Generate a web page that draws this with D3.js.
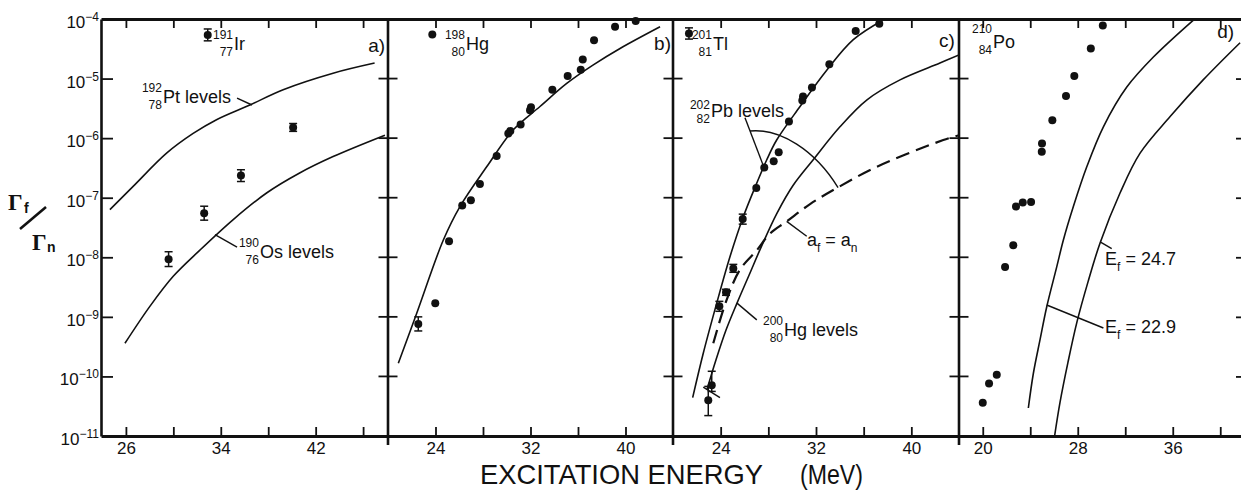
<!DOCTYPE html>
<html>
<head>
<meta charset="utf-8">
<script src="https://cdn.jsdelivr.net/npm/d3@7"></script>
<style>
  body { margin: 0; background: #fff; }
  svg { display: block; }
  text { font-family: "Liberation Sans", Arial, sans-serif; fill: #111; }
</style>
</head>
<body>
<svg id="chart" width="1241" height="490"></svg>
<script>
// ---- values (Γf/Γn against excitation energy in MeV) ----
const decades = [1e-4, 1e-5, 1e-6, 1e-7, 1e-8, 1e-9, 1e-10, 1e-11];
const ticksA = [26, 30, 34, 38, 42, 46], labelsA = [26, 34, 42];
const ticksBC = [24, 28, 32, 36, 40], labelsBC = [24, 32, 40];
const ticksD = [20, 24, 28, 32, 36, 40], labelsD = [20, 28, 36];

// a) 191Ir   [E, value, low, high]
const ir191 = [
  [29.6, 9.3e-9, 7.0e-9, 1.24e-8],
  [32.6, 5.5e-8, 4.2e-8, 7.2e-8],
  [35.7, 2.35e-7, 1.87e-7, 2.95e-7],
  [40.1, 1.51e-6, 1.3e-6, 1.76e-6]
];
const pt192Levels = [[24.65, 6.3e-8], [26.61, 1.55e-7], [29.43, 5.6e-7], [31.67, 1.2e-6], [33.64, 2.04e-6],
  [36.45, 3.6e-6], [39.26, 6.5e-6], [43.47, 1.23e-5], [46.97, 1.82e-5]];
const os190Levels = [[25.92, 3.6e-10], [28.02, 1.5e-9], [29.99, 4.8e-9], [32.24, 1.32e-8], [35.05, 4.3e-8],
  [37.86, 1.2e-7], [40.65, 2.6e-7], [43.47, 4.9e-7], [47.84, 1.12e-6]];

// b) 198Hg
const hg198 = [[39.12, 7.4e-5], [40.86, 9.3e-5], [37.35, 4.4e-5], [36.4, 2.1e-5], [36.23, 1.4e-5], [35.13, 1.1e-5],
  [33.84, 6.5e-6], [32.04, 3.3e-6], [31.96, 2.95e-6], [31.17, 1.7e-6], [30.3, 1.32e-6], [30.13, 1.2e-6],
  [29.15, 5.0e-7], [27.74, 1.7e-7], [26.98, 9.1e-8], [26.25, 7.4e-8], [25.14, 1.86e-8], [23.98, 1.7e-9],
  [22.55, 7.6e-10]];
const hg198Bars = [[22.55, 7.6e-10, 5.8e-10, 1.0e-9]];
const hg198Calc = [[20.87, 1.66e-10], [22.42, 1.15e-9], [24.66, 1.95e-8], [26.06, 7.1e-8], [28.31, 3.3e-7],
  [30.55, 1.38e-6], [32.8, 3.4e-6], [35.05, 8.3e-6], [37.29, 1.7e-5], [39.54, 3.2e-5], [42.91, 7.4e-5]];

// c) 201Tl
const tl201 = [[37.31, 8.3e-5], [35.33, 6.3e-5], [33.12, 1.74e-5], [31.66, 7.1e-6], [30.91, 5.0e-6], [30.85, 4.3e-6],
  [29.73, 1.9e-6], [28.87, 5.8e-7], [28.45, 4.1e-7], [27.66, 3.2e-7], [26.99, 1.45e-7], [25.85, 4.4e-8],
  [25.06, 6.5e-9], [24.45, 2.6e-9], [23.89, 1.5e-9], [23.25, 7.1e-11], [22.96, 4.0e-11]];
const tl201Bars = [[25.85, 4.4e-8, 3.6e-8, 5.3e-8], [25.06, 6.5e-9, 5.6e-9, 7.6e-9], [24.45, 2.6e-9, 2.3e-9, 2.9e-9],
  [23.89, 1.5e-9, 1.24e-9, 1.82e-9], [23.25, 7.1e-11, 5.6e-11, 1.22e-10], [22.96, 4.0e-11, 2.2e-11, 6.8e-11]];
const pb202Levels = [[21.65, 4.4e-11], [22.54, 2.45e-10], [23.67, 1.7e-9], [24.78, 1.02e-8], [25.9, 4.8e-8],
  [27.02, 1.74e-7], [27.86, 4.3e-7], [28.7, 9.3e-7], [30.66, 3.4e-6], [32.9, 1.38e-5], [35.13, 4.5e-5], [37.79, 1.0e-4]];
const hg200Levels = [[22.85, 6.0e-11], [23.61, 1.9e-10], [24.45, 6.0e-10], [25.37, 1.7e-9], [26.38, 5.0e-9],
  [27.47, 1.6e-8], [28.73, 5.5e-8], [30.07, 1.6e-7], [31.75, 4.3e-7], [34.01, 1.55e-6], [36.28, 4.4e-6],
  [39.05, 9.5e-6], [42.4, 1.82e-5], [44.0, 2.5e-5]];
const afEqualsAn = [[23.38, 3.6e-10], [24.51, 1.95e-9], [25.62, 6.2e-9], [27.02, 1.3e-8], [28.14, 2.5e-8],
  [29.54, 4.0e-8], [31.5, 7.8e-8], [33.74, 1.45e-7], [37.09, 3.3e-7], [42.68, 9.3e-7], [44.0, 1.12e-6]];

// d) 210Po
const po210 = [[30.11, 7.8e-5], [29.1, 3.2e-5], [27.71, 1.1e-5], [27.01, 5.1e-6], [25.86, 2.0e-6], [24.99, 8.1e-7],
  [24.97, 5.9e-7], [24.07, 8.5e-8], [23.37, 8.3e-8], [22.8, 7.1e-8], [22.57, 1.6e-8], [21.88, 6.9e-9],
  [21.18, 1.07e-10], [20.53, 7.6e-11], [20.0, 3.6e-11]];
const ef229 = [[23.84, 2.95e-11], [24.26, 1.12e-10], [24.82, 4.1e-10], [25.39, 1.48e-9], [26.23, 6.9e-9],
  [26.79, 1.95e-8], [27.63, 7.1e-8], [28.76, 3.3e-7], [30.16, 1.55e-6], [32.13, 7.2e-6], [34.37, 2.3e-5], [37.74, 9.6e-5]];
const ef247 = [[26.05, 1.0e-11], [26.51, 3.7e-11], [27.18, 1.74e-10], [27.94, 8.3e-10], [28.87, 3.9e-9],
  [29.88, 1.74e-8], [31.56, 1.2e-7], [33.25, 5.6e-7], [35.78, 2.3e-6], [38.56, 9.5e-6], [41.67, 4.0e-5]];

// ---- layout ----
const svg = d3.select("#chart");
const yTop = 19, yBot = 436;
const ink = "#111";
const y = d3.scaleLog().domain([1e-11, 1e-4]).range([yBot, yTop]);

const panels = [
  { x0: 101, x1: 388, dom: [23.9, 48.1], ticks: ticksA, labels: labelsA },
  { x0: 388, x1: 673, dom: [20, 44], ticks: ticksBC, labels: labelsBC },
  { x0: 673, x1: 959, dom: [20, 44], ticks: ticksBC, labels: labelsBC },
  { x0: 959, x1: 1244, dom: [18, 42], ticks: ticksD, labels: labelsD }
];
const defs = svg.append("defs");
panels.forEach((p, i) => {
  p.x = d3.scaleLinear().domain(p.dom).range([p.x0, p.x1]);
  defs.append("clipPath").attr("id", "clip" + i).append("rect")
    .attr("x", p.x0).attr("y", yTop).attr("width", p.x1 - p.x0).attr("height", yBot - yTop);
  p.g = svg.append("g");
});

// horizontal axes
panels.forEach(p => {
  p.g.append("g").attr("class", "axis").attr("transform", "translate(0," + yBot + ")")
    .call(d3.axisBottom(p.x).tickValues(p.ticks).tickSizeInner(-9).tickSizeOuter(0).tickPadding(6)
      .tickFormat(d => p.labels.indexOf(d) >= 0 ? d : ""));
  p.g.append("g").attr("class", "axis").attr("transform", "translate(0," + yTop + ")")
    .call(d3.axisTop(p.x).tickValues(p.ticks).tickSizeInner(-9).tickSizeOuter(0).tickFormat(""));
});
svg.selectAll(".axis path.domain").attr("stroke-width", 3).attr("stroke", ink);
svg.selectAll(".axis line").attr("stroke-width", 1.8).attr("stroke", ink);
svg.selectAll(".axis text").attr("font-size", 17).attr("fill", ink);

// vertical axes
const inner = decades.slice(1, -1);
svg.append("g").attr("transform", "translate(" + panels[0].x0 + ",0)")
  .call(d3.axisLeft(y).tickValues(inner).tickSizeInner(-12).tickSizeOuter(0).tickFormat(""))
  .call(g => g.selectAll("path,line").attr("stroke", ink))
  .call(g => g.select("path.domain").attr("stroke-width", 2.6))
  .call(g => g.selectAll("line").attr("stroke-width", 1.8));

panels.slice(1).forEach(p => {
  const g = svg.append("g").attr("stroke", ink);
  g.append("line").attr("x1", p.x0).attr("x2", p.x0).attr("y1", yTop - 1).attr("y2", yBot + 9)
    .attr("stroke-width", 2.6);
  g.selectAll(".tk").data(inner).join("line").attr("class", "tk")
    .attr("x1", p.x0 - 9.5).attr("x2", p.x0 + 9.5)
    .attr("y1", d => y(d)).attr("y2", d => y(d)).attr("stroke-width", 1.8);
});

svg.append("g").attr("transform", "translate(" + panels[3].x1 + ",0)")
  .call(d3.axisLeft(y).tickValues(inner).tickSizeInner(8).tickSizeOuter(0).tickFormat(""))
  .call(g => g.selectAll("path,line").attr("stroke", ink))
  .call(g => g.select("path.domain").attr("stroke-width", 2.6))
  .call(g => g.selectAll("line").attr("stroke-width", 1.8));

// decade labels 10^-n
svg.append("g").selectAll("text").data(decades).join("text")
  .attr("x", 99).attr("y", d => y(d) + 9).attr("text-anchor", "end").attr("font-size", 17)
  .each(function (d) {
    const t = d3.select(this);
    t.append("tspan").text("10");
    t.append("tspan").attr("dy", -7).attr("font-size", 12).text("\u2212" + Math.round(-Math.log10(d)));
  });

// ---- marks ----
function curve(i, data, dash) {
  const p = panels[i];
  p.g.append("path").datum(data)
    .attr("clip-path", "url(#clip" + i + ")")
    .attr("fill", "none").attr("stroke", ink)
    .attr("stroke-width", dash ? 2.2 : 1.6)
    .attr("stroke-dasharray", dash ? "14,7" : null)
    .attr("d", d3.line().x(d => p.x(d[0])).y(d => y(d[1])).curve(d3.curveCatmullRom.alpha(0.5)));
}
function dots(i, data) {
  const p = panels[i];
  p.g.append("g").selectAll("circle").data(data).join("circle")
    .attr("cx", d => p.x(d[0])).attr("cy", d => y(d[1])).attr("r", 4).attr("fill", ink);
}
function errBars(i, data) {
  const p = panels[i];
  const g = p.g.append("g").attr("stroke", ink).attr("stroke-width", 1.5);
  data.forEach(d => {
    const cx = p.x(d[0]);
    g.append("line").attr("x1", cx).attr("x2", cx).attr("y1", y(d[2])).attr("y2", y(d[3]));
    [d[2], d[3]].forEach(v => g.append("line")
      .attr("x1", cx - 4).attr("x2", cx + 4).attr("y1", y(v)).attr("y2", y(v)));
  });
}
function lead(i, pts) {
  const p = panels[i];
  p.g.append("path").attr("fill", "none").attr("stroke", ink).attr("stroke-width", 1.4)
    .attr("d", d3.line().x(d => p.x(d[0])).y(d => y(d[1]))(pts));
}
// nuclide label: mass over Z, right aligned, then symbol/text
function nuclide(i, e, v, mass, z, rest, up) {
  const p = panels[i], bx = p.x(e), by = y(v);
  const g = p.g.append("g");
  g.append("text").attr("x", bx).attr("y", by - (up || 11)).attr("text-anchor", "end").attr("font-size", 12).text(mass);
  g.append("text").attr("x", bx).attr("y", by + 6).attr("text-anchor", "end").attr("font-size", 12).text(z);
  g.append("text").attr("x", bx + 1).attr("y", by).attr("font-size", 18).text(rest);
}
function tag(i, e, v, txt) {
  panels[i].g.append("text").attr("x", panels[i].x(e)).attr("y", y(v))
    .attr("text-anchor", "end").attr("font-size", 19).text(txt);
}

// a)
curve(0, pt192Levels);
curve(0, os190Levels);
errBars(0, ir191);
dots(0, ir191);
errBars(0, [[32.9, 5.4e-5, 4.3e-5, 6.8e-5]]);
dots(0, [[32.9, 5.4e-5]]);
nuclide(0, 35.03, 3.0e-5, "191", "77", "Ir");
nuclide(0, 29.04, 3.9e-6, "192", "78", "Pt levels");
lead(0, [[35.37, 4.7e-6], [36.63, 3.6e-6]]);
nuclide(0, 37.22, 9.8e-9, "190", "76", "Os levels");
lead(0, [[33.51, 2.4e-8], [35.37, 1.48e-8]]);
tag(0, 47.85, 2.8e-5, "a)");

// b)
curve(1, hg198Calc);
errBars(1, hg198Bars);
dots(1, hg198);
dots(1, [[23.73, 5.5e-5]]);
nuclide(1, 26.48, 3.0e-5, "198", "80", "Hg");
tag(1, 43.83, 3.0e-5, "b)");

// c)
curve(2, pb202Levels);
curve(2, hg200Levels);
curve(2, afEqualsAn, true);
errBars(2, tl201Bars);
dots(2, tl201);
lead(2, [[22.54, 6.6e-11], [23.94, 4.4e-11]]);
errBars(2, [[21.34, 5.7e-5, 4.6e-5, 7.1e-5]]);
dots(2, [[21.34, 5.7e-5]]);
nuclide(2, 23.27, 3.0e-5, "201", "81", "Tl");
nuclide(2, 23.1, 2.3e-6, "202", "82", "Pb levels", 8);
lead(2, [[26.04, 2.2e-6], [27.64, 3.2e-7]]);
(function () {
  const p = panels[2];
  const a = [[26.46, 1.32e-6], [28.98, 1.48e-6], [31.92, 6.3e-7], [33.85, 1.48e-7]].map(d => [p.x(d[0]), y(d[1])]);
  p.g.append("path").attr("fill", "none").attr("stroke", ink).attr("stroke-width", 1.4)
    .attr("d", "M" + a[0] + "C" + a[1] + " " + a[2] + " " + a[3]);
  const t = p.g.append("text").attr("x", p.x(31.24)).attr("y", y(1.55e-8)).attr("font-size", 18);
  t.append("tspan").text("a");
  t.append("tspan").attr("dy", 6).attr("font-size", 12).text("f");
  t.append("tspan").attr("dy", -6).text(" = a");
  t.append("tspan").attr("dy", 6).attr("font-size", 12).text("n");
})();
lead(2, [[29.54, 4.0e-8], [31.22, 2.25e-8]]);
nuclide(2, 29.23, 4.8e-10, "200", "80", "Hg levels");
lead(2, [[25.37, 1.7e-9], [27.03, 8.9e-10]]);
tag(2, 43.66, 3.4e-5, "c)");

// d)
curve(3, ef229);
curve(3, ef247);
dots(3, po210);
nuclide(3, 20.78, 3.3e-5, "210", "84", "Po", 15);
tag(3, 41.17, 4.8e-5, "d)");
lead(3, [[29.92, 1.8e-8], [30.86, 1.4e-8]]);
lead(3, [[25.39, 1.58e-9], [30.16, 6.5e-10]]);
[[7.4e-9, "24.7"], [5.4e-10, "22.9"]].forEach(d => {
  const t = panels[3].g.append("text").attr("x", panels[3].x(30.3)).attr("y", y(d[0])).attr("font-size", 18);
  t.append("tspan").text("E");
  t.append("tspan").attr("dy", 6).attr("font-size", 12).text("f");
  t.append("tspan").attr("dy", -6).text(" = " + d[1]);
});

// ---- titles ----
const serif = "'Liberation Serif', 'DejaVu Serif', serif";
const yl = svg.append("g");
yl.append("text").attr("x", 8).attr("y", 210).attr("font-size", 23).style("font-family", serif)
  .attr("font-weight", "bold").text("\u0393");
yl.append("text").attr("x", 24).attr("y", 213).attr("font-size", 14).attr("font-weight", "bold").text("f");
yl.append("line").attr("x1", 20).attr("y1", 229).attr("x2", 46).attr("y2", 207)
  .attr("stroke", ink).attr("stroke-width", 2.6);
yl.append("text").attr("x", 32).attr("y", 250).attr("font-size", 23).style("font-family", serif)
  .attr("font-weight", "bold").text("\u0393");
yl.append("text").attr("x", 47).attr("y", 252).attr("font-size", 14).attr("font-weight", "bold").text("n");

svg.append("text").attr("x", 480).attr("y", 484).attr("font-size", 28)
  .attr("textLength", 283).attr("lengthAdjust", "spacingAndGlyphs").text("EXCITATION ENERGY");
svg.append("text").attr("x", 800).attr("y", 484).attr("font-size", 28)
  .attr("textLength", 63).attr("lengthAdjust", "spacingAndGlyphs").text("(MeV)");
</script>
</body>
</html>
